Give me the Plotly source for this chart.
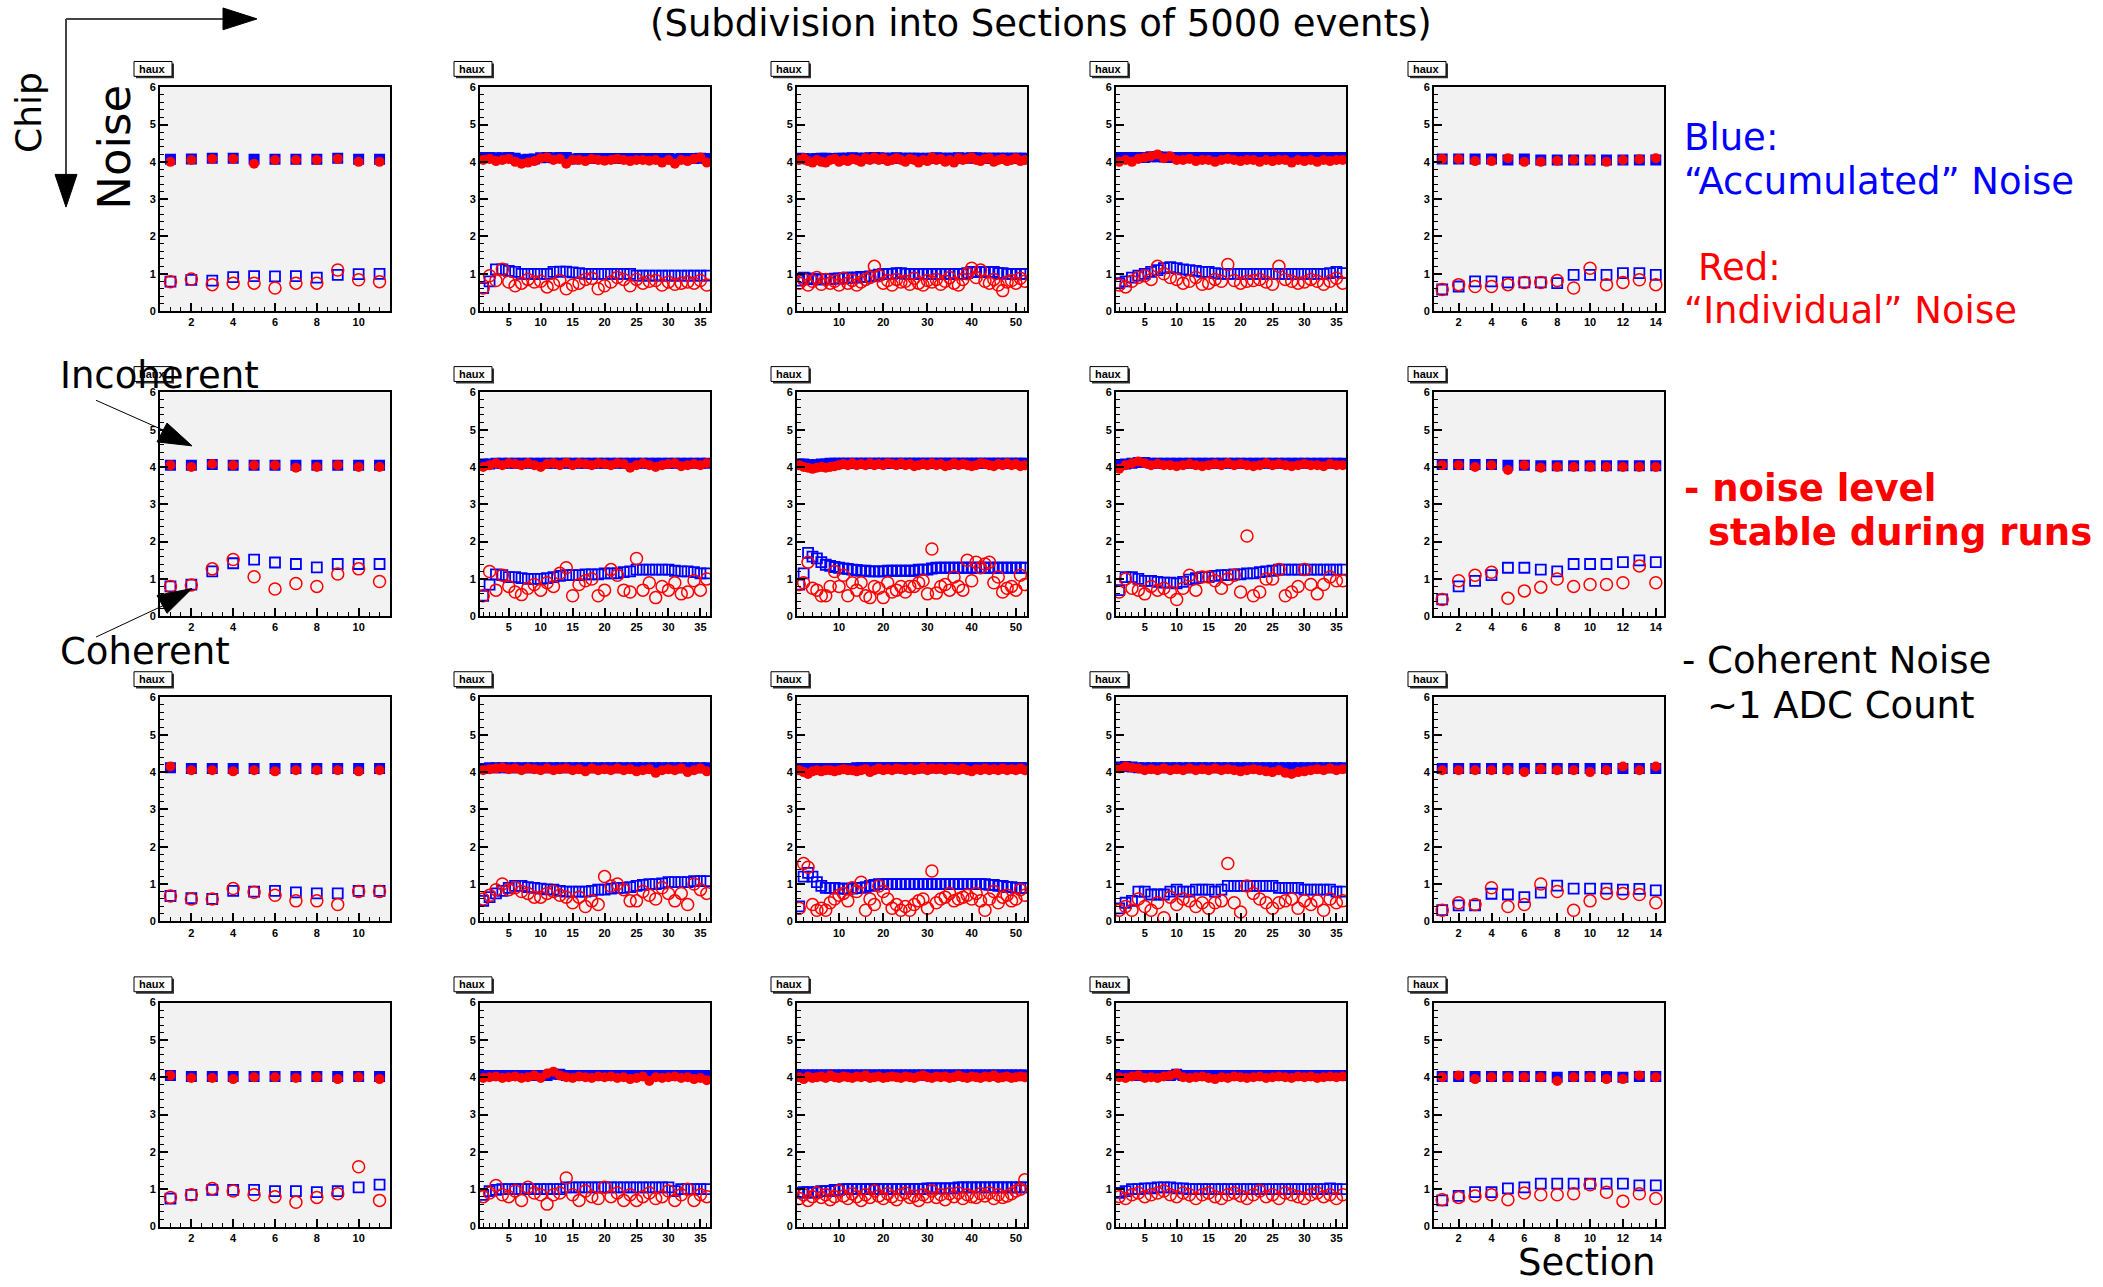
import plotly.graph_objects as go

W, H = 2103, 1287

# ---------------------------------------------------------------------------
# Noise per section (ADC counts).  Naming: r<row/chip>c<column/run>_<series>
#   bh = accumulated incoherent, rh = individual incoherent
#   bl = accumulated coherent,   rl = individual coherent
# ---------------------------------------------------------------------------
N_SECTIONS = [11, 36, 52, 36, 14]
X_MAJOR = [2, 5, 10, 5, 2]
X_MINOR = [0.5, 1, 2, 1, 0.5]

# ----- chip 1 -----
r1c1_bh = [4.07, 4.08, 4.1, 4.1, 4.07, 4.07, 4.07, 4.07, 4.1, 4.07, 4.07]
r1c1_rh = [4.0, 4.05, 4.08, 4.08, 3.95, 4.05, 4.05, 4.05, 4.08, 4.0, 4.0]
r1c1_bl = [0.79, 0.84, 0.82, 0.91, 0.94, 0.93, 0.94, 0.90, 0.97, 0.99, 1.0]
r1c1_rl = [0.79, 0.86, 0.71, 0.75, 0.75, 0.62, 0.75, 0.75, 1.1, 0.84, 0.79]

r1c2_bh = [4.12, 4.12, 4.11, 4.11, 4.12, 4.1, 4.06, 4.07, 4.08, 4.11,
           4.12, 4.11, 4.12, 4.12, 4.08, 4.09, 4.09, 4.09, 4.09, 4.09,
           4.09, 4.09, 4.09, 4.09, 4.09, 4.09, 4.09, 4.09, 4.09, 4.09,
           4.08, 4.09, 4.09, 4.09, 4.1, 4.09]
r1c2_rh = [4.05, 4.08, 4.02, 4.05, 4.08, 4.0, 3.95, 3.98, 4.02, 4.1,
           4.12, 4.05, 4.08, 3.95, 4.05, 4.05, 4.02, 4.08, 4.05, 4.03,
           4.05, 4.08, 4.05, 4.02, 4.05, 4.05, 4.03, 4.05, 3.98, 4.05,
           3.95, 4.05, 4.02, 4.08, 4.12, 3.98]
r1c2_bl = [0.62, 0.8, 1.12, 1.12, 1.08, 1.05, 1.0, 1.0, 1.0, 1.0,
           1.0, 1.05, 1.06, 1.06, 1.04, 1.02, 1.0, 1.0, 1.0, 1.0,
           1.0, 1.0, 1.0, 1.0, 0.95, 0.95, 0.95, 0.95, 0.95, 0.95,
           0.95, 0.95, 0.95, 0.95, 0.95, 0.95]
r1c2_rl = [0.62, 0.95, 0.82, 1.12, 0.78, 0.68, 0.75, 0.85, 0.78, 0.8,
           0.65, 0.72, 0.82, 0.6, 0.7, 0.75, 0.85, 0.88, 0.6, 0.68,
           0.78, 0.9, 0.85, 0.68, 0.85, 0.75, 0.8, 0.82, 0.7, 0.78,
           0.72, 0.75, 0.78, 0.75, 0.82, 0.7]

r1c3_bh = [4.1, 4.09, 4.08, 4.08, 4.09, 4.1, 4.1, 4.09, 4.09, 4.1,
           4.1, 4.1, 4.11, 4.1, 4.1, 4.1, 4.11, 4.12, 4.11, 4.1,
           4.1, 4.1, 4.11, 4.1, 4.1, 4.1, 4.1, 4.1, 4.09, 4.1,
           4.1, 4.11, 4.1, 4.1, 4.1, 4.1, 4.11, 4.1, 4.1, 4.11,
           4.11, 4.1, 4.1, 4.1, 4.1, 4.1, 4.1, 4.1, 4.1, 4.1,
           4.1, 4.1]
r1c3_rh = [4.05, 4.1, 4.02, 3.98, 4.05, 4.0, 3.98, 4.05, 4.08, 4.0,
           4.05, 4.02, 4.08, 4.05, 4.0, 4.1, 4.05, 4.12, 4.05, 4.1,
           4.02, 4.05, 4.1, 4.05, 4.0, 4.08, 4.05, 3.98, 4.05, 4.02,
           4.12, 4.05, 4.08, 4.0, 4.05, 3.98, 4.1, 4.05, 4.08, 4.12,
           4.05, 4.02, 4.08, 4.1, 4.0, 4.05, 4.08, 4.02, 4.05, 4.1,
           4.02, 4.05]
r1c3_bl = [0.82, 0.9, 0.88, 0.86, 0.85, 0.85, 0.86, 0.86, 0.87, 0.88,
           0.88, 0.9, 0.9, 0.9, 0.92, 0.92, 0.93, 0.95, 0.98, 1.0,
           1.0, 1.0, 1.02, 1.02, 1.0, 1.0, 1.0, 1.0, 1.0, 1.0,
           1.0, 1.0, 1.0, 1.0, 1.0, 1.0, 1.0, 1.0, 1.02, 1.05,
           1.05, 1.05, 1.05, 1.05, 1.05, 1.02, 1.02, 1.0, 1.0, 1.0,
           1.0, 1.0]
r1c3_rl = [0.75, 0.85, 0.7, 0.8, 0.9, 0.72, 0.85, 0.75, 0.8, 0.7,
           0.88, 0.75, 0.82, 0.7, 0.78, 0.85, 0.9, 1.2, 0.95, 0.75,
           0.82, 0.7, 0.85, 0.78, 0.8, 0.72, 0.88, 0.75, 0.7, 0.82,
           0.78, 0.85, 0.72, 0.8, 0.9, 0.75, 0.7, 0.85, 1.0, 1.15,
           0.9, 1.1, 0.8, 0.75, 0.85, 0.7, 0.55, 0.78, 0.82, 0.75,
           0.88, 0.8]

r1c4_bh = [4.12, 4.12, 4.12, 4.12, 4.12, 4.14, 4.14, 4.13, 4.12, 4.12,
           4.12, 4.12, 4.12, 4.12, 4.12, 4.12, 4.12, 4.12, 4.12, 4.12,
           4.12, 4.12, 4.12, 4.12, 4.12, 4.12, 4.12, 4.12, 4.12, 4.12,
           4.12, 4.12, 4.12, 4.12, 4.12, 4.12]
r1c4_rh = [4.0, 4.05, 4.0, 4.08, 4.12, 4.15, 4.2, 4.1, 4.15, 4.05,
           4.05, 4.08, 4.02, 4.05, 4.05, 4.0, 4.05, 4.08, 4.05, 4.02,
           4.05, 4.05, 4.0, 4.05, 4.02, 4.05, 4.05, 3.98, 4.05, 4.02,
           4.05, 4.0, 4.05, 4.02, 4.05, 4.05]
r1c4_bl = [0.75, 0.8, 0.9, 0.95, 1.0, 1.05, 1.1, 1.15, 1.18, 1.15,
           1.12, 1.1, 1.08, 1.05, 1.05, 1.02, 1.0, 1.0, 1.0, 1.0,
           1.0, 1.0, 1.0, 1.0, 1.0, 1.0, 1.0, 1.0, 1.0, 1.0,
           1.0, 1.0, 1.0, 1.02, 1.05, 1.02]
r1c4_rl = [0.7, 0.65, 0.8, 0.9, 0.95, 0.85, 1.2, 1.0, 0.9, 0.85,
           0.75, 0.8, 0.9, 0.72, 0.75, 0.85, 0.8, 1.25, 0.82, 0.75,
           0.8, 0.82, 0.85, 0.78, 0.72, 1.2, 0.85, 0.8, 0.75, 0.78,
           0.85, 0.8, 0.72, 0.8, 0.88, 0.75]

r1c5_bh = [4.08, 4.08, 4.08, 4.08, 4.05, 4.08, 4.05, 4.05, 4.05, 4.05,
           4.05, 4.05, 4.05, 4.05]
r1c5_rh = [4.08, 4.08, 4.02, 4.02, 4.1, 4.0, 4.0, 4.03, 4.05, 4.05,
           4.0, 4.05, 4.07, 4.1]
r1c5_bl = [0.58, 0.66, 0.8, 0.8, 0.77, 0.77, 0.77, 0.75, 0.97, 0.97,
           0.97, 1.02, 1.02, 0.97]
r1c5_rl = [0.58, 0.71, 0.66, 0.66, 0.71, 0.77, 0.77, 0.82, 0.62, 1.15,
           0.71, 0.77, 0.84, 0.71]

# ----- chip 2 -----
r2c1_bh = [4.05, 4.05, 4.07, 4.05, 4.05, 4.05, 4.05, 4.05, 4.05, 4.05, 4.05]
r2c1_rh = [4.05, 4.0, 4.08, 4.05, 4.05, 4.05, 3.98, 4.0, 4.05, 4.0, 4.0]
r2c1_bl = [0.8, 0.85, 1.2, 1.42, 1.52, 1.44, 1.4, 1.31, 1.4, 1.4, 1.4]
r2c1_rl = [0.8, 0.84, 1.27, 1.52, 1.06, 0.73, 0.88, 0.8, 1.13, 1.27, 0.93]

r2c2_bh = [4.08, 4.08, 4.1, 4.1, 4.1, 4.1, 4.1, 4.1, 4.1, 4.1,
           4.1, 4.1, 4.1, 4.1, 4.1, 4.1, 4.1, 4.1, 4.1, 4.1,
           4.1, 4.1, 4.1, 4.1, 4.1, 4.1, 4.1, 4.1, 4.1, 4.1,
           4.1, 4.1, 4.1, 4.1, 4.1, 4.1]
r2c2_rh = [4.0, 4.05, 4.1, 4.05, 4.1, 4.08, 4.05, 4.1, 4.05, 4.0,
           4.08, 4.1, 4.05, 4.12, 4.05, 4.1, 4.08, 4.05, 4.1, 4.08,
           4.05, 4.1, 4.08, 3.98, 4.05, 4.1, 4.05, 4.0, 4.05, 4.08,
           4.1, 4.02, 4.05, 4.08, 4.05, 4.1]
r2c2_bl = [0.55, 0.85, 1.12, 1.1, 1.05, 1.05, 1.02, 1.0, 1.0, 1.0,
           1.02, 1.05, 1.08, 1.1, 1.1, 1.1, 1.12, 1.12, 1.12, 1.15,
           1.15, 1.15, 1.18, 1.2, 1.25, 1.25, 1.25, 1.25, 1.25, 1.25,
           1.22, 1.2, 1.2, 1.18, 1.15, 1.15]
r2c2_rl = [0.55, 1.2, 0.7, 1.1, 0.8, 0.65, 0.58, 0.75, 0.85, 0.7,
           0.9, 0.8, 1.15, 1.3, 0.55, 0.85, 0.95, 1.0, 0.55, 0.7,
           1.25, 1.1, 0.7, 0.65, 1.55, 0.7, 0.9, 0.5, 0.8, 0.7,
           0.9, 0.6, 0.65, 0.95, 0.7, 1.0]

r2c3_bh = [4.08, 4.08, 4.06, 4.06, 4.06, 4.08, 4.08, 4.1, 4.1, 4.1,
           4.1, 4.1, 4.1, 4.1, 4.1, 4.1, 4.1, 4.1, 4.1, 4.1,
           4.1, 4.1, 4.1, 4.1, 4.1, 4.1, 4.1, 4.1, 4.1, 4.1,
           4.1, 4.1, 4.1, 4.1, 4.1, 4.1, 4.1, 4.1, 4.1, 4.1,
           4.1, 4.1, 4.1, 4.1, 4.1, 4.1, 4.1, 4.1, 4.1, 4.1,
           4.1, 4.1]
r2c3_rh = [4.05, 4.0, 3.98, 3.95, 3.98, 4.0, 3.98, 4.0, 4.02, 4.05,
           4.08, 4.05, 4.1, 4.05, 4.08, 4.05, 4.1, 4.05, 4.08, 4.05,
           4.1, 4.08, 4.05, 4.1, 4.05, 4.08, 4.02, 4.05, 4.08, 4.05,
           4.1, 4.05, 4.08, 4.02, 4.05, 4.1, 4.05, 4.08, 4.05, 4.02,
           4.05, 4.1, 4.08, 4.05, 4.02, 4.08, 4.05, 4.1, 4.05, 4.08,
           4.02, 4.05]
r2c3_bl = [0.85, 1.15, 1.7, 1.6, 1.55, 1.45, 1.38, 1.35, 1.32, 1.3,
           1.28, 1.27, 1.25, 1.24, 1.22, 1.22, 1.2, 1.2, 1.2, 1.2,
           1.22, 1.22, 1.22, 1.22, 1.22, 1.22, 1.22, 1.25, 1.25, 1.25,
           1.28, 1.3, 1.3, 1.3, 1.3, 1.3, 1.3, 1.3, 1.3, 1.3,
           1.3, 1.3, 1.3, 1.3, 1.3, 1.3, 1.3, 1.3, 1.3, 1.3,
           1.3, 1.3]
r2c3_rl = [0.85, 0.9, 1.45, 0.75, 0.7, 0.55, 0.55, 0.8, 1.2, 0.8,
           1.1, 0.55, 0.9, 0.7, 0.9, 0.55, 0.5, 0.8, 0.75, 0.5,
           0.9, 0.65, 0.7, 0.8, 0.65, 0.8, 0.8, 0.9, 0.95, 0.6,
           1.8, 0.62, 0.8, 0.85, 0.7, 1.05, 0.8, 0.7, 1.5, 0.95,
           1.45, 1.3, 1.4, 1.45, 0.9, 1.05, 0.65, 0.75, 0.8, 0.7,
           1.1, 0.85]

r2c4_bh = [4.06, 4.08, 4.1, 4.12, 4.12, 4.1, 4.1, 4.1, 4.1, 4.1,
           4.1, 4.1, 4.1, 4.1, 4.1, 4.1, 4.1, 4.1, 4.1, 4.1,
           4.1, 4.1, 4.1, 4.1, 4.1, 4.1, 4.1, 4.1, 4.1, 4.1,
           4.1, 4.1, 4.1, 4.1, 4.1, 4.1]
r2c4_rh = [3.95, 4.05, 4.1, 4.15, 4.1, 4.05, 4.08, 4.05, 4.05, 4.02,
           4.05, 4.08, 4.05, 4.02, 4.05, 4.08, 4.05, 4.1, 4.05, 4.08,
           4.05, 4.02, 4.05, 4.1, 4.05, 4.08, 4.05, 4.02, 4.05, 4.08,
           4.05, 4.05, 4.02, 4.08, 4.05, 4.05]
r2c4_bl = [0.7, 1.05, 1.05, 1.0, 0.95, 0.95, 0.92, 0.9, 0.9, 0.88,
           0.92, 0.98, 1.02, 1.05, 1.05, 1.08, 1.1, 1.1, 1.12, 1.12,
           1.15, 1.15, 1.18, 1.2, 1.22, 1.25, 1.25, 1.25, 1.25, 1.25,
           1.25, 1.25, 1.25, 1.25, 1.25, 1.25]
r2c4_rl = [0.65, 1.0, 0.75, 0.7, 0.6, 0.8, 0.7, 0.75, 0.65, 0.45,
           0.75, 1.1, 0.7, 1.05, 1.05, 0.95, 0.75, 1.0, 1.1, 0.65,
           2.15, 0.55, 0.65, 1.0, 1.0, 1.25, 0.55, 0.65, 0.8, 1.25,
           0.85, 0.6, 0.85, 1.05, 0.95, 0.95]

r2c5_bh = [4.07, 4.07, 4.07, 4.07, 4.05, 4.05, 4.03, 4.03, 4.03, 4.03,
           4.03, 4.03, 4.03, 4.03]
r2c5_rh = [4.05, 4.05, 4.0, 4.05, 3.92, 4.05, 3.98, 4.0, 4.0, 4.0,
           4.0, 4.0, 4.0, 4.0]
r2c5_bl = [0.45, 0.8, 0.95, 1.1, 1.3, 1.3, 1.25, 1.2, 1.4, 1.4,
           1.4, 1.45, 1.5, 1.45]
r2c5_rl = [0.45, 0.95, 1.1, 1.18, 0.48, 0.68, 0.78, 1.0, 0.8, 0.85,
           0.85, 0.9, 1.35, 0.9]

# ----- chip 3 -----
r3c1_bh = [4.12, 4.1, 4.1, 4.1, 4.1, 4.1, 4.1, 4.1, 4.1, 4.1, 4.1]
r3c1_rh = [4.15, 4.05, 4.05, 4.02, 4.05, 4.02, 4.05, 4.05, 4.05, 4.02, 4.05]
r3c1_bl = [0.68, 0.62, 0.6, 0.82, 0.8, 0.82, 0.78, 0.75, 0.75, 0.82, 0.82]
r3c1_rl = [0.68, 0.6, 0.6, 0.88, 0.78, 0.7, 0.55, 0.55, 0.45, 0.8, 0.8]

r3c2_bh = [4.1, 4.12, 4.12, 4.12, 4.12, 4.12, 4.12, 4.12, 4.12, 4.12,
           4.12, 4.12, 4.12, 4.12, 4.12, 4.12, 4.12, 4.12, 4.12, 4.12,
           4.12, 4.12, 4.12, 4.12, 4.12, 4.12, 4.12, 4.12, 4.12, 4.12,
           4.12, 4.12, 4.12, 4.12, 4.12, 4.12]
r3c2_rh = [4.05, 4.08, 4.1, 4.12, 4.08, 4.1, 4.05, 4.1, 4.08, 4.05,
           4.1, 4.05, 4.08, 4.1, 4.05, 4.08, 4.02, 4.1, 4.05, 4.08,
           4.05, 4.1, 4.05, 4.08, 4.02, 4.05, 4.08, 3.98, 4.05, 4.08,
           4.05, 4.1, 4.0, 4.05, 4.1, 4.02]
r3c2_bl = [0.55, 0.65, 0.75, 0.82, 0.9, 0.95, 0.95, 0.92, 0.9, 0.88,
           0.86, 0.85, 0.82, 0.8, 0.8, 0.8, 0.8, 0.82, 0.85, 0.85,
           0.88, 0.9, 0.9, 0.92, 0.95, 0.98, 1.0, 1.0, 1.02, 1.05,
           1.05, 1.05, 1.05, 1.08, 1.08, 1.08]
r3c2_rl = [0.6, 0.7, 0.85, 1.0, 0.85, 0.9, 0.8, 0.75, 0.65, 0.65,
           0.75, 0.8, 0.7, 0.65, 0.5, 0.65, 0.4, 0.55, 0.45, 1.2,
           0.95, 1.0, 0.85, 0.55, 0.55, 0.8, 0.7, 0.6, 0.9, 0.75,
           0.55, 0.75, 0.45, 1.0, 0.85, 0.75]

r3c3_bh = [4.1, 4.1, 4.08, 4.1, 4.1, 4.1, 4.1, 4.1, 4.1, 4.1,
           4.1, 4.1, 4.1, 4.12, 4.12, 4.12, 4.12, 4.12, 4.12, 4.12,
           4.12, 4.12, 4.12, 4.12, 4.12, 4.12, 4.12, 4.12, 4.12, 4.12,
           4.12, 4.12, 4.12, 4.12, 4.12, 4.12, 4.12, 4.12, 4.12, 4.12,
           4.12, 4.12, 4.12, 4.12, 4.12, 4.12, 4.12, 4.12, 4.12, 4.12,
           4.12, 4.12]
r3c3_rh = [4.05, 4.0, 3.95, 4.02, 4.05, 4.02, 4.05, 4.05, 4.02, 4.05,
           4.08, 4.05, 4.05, 4.02, 4.05, 4.08, 4.0, 4.05, 4.1, 4.05,
           4.08, 4.05, 4.1, 4.08, 4.05, 4.1, 4.05, 4.08, 4.12, 4.05,
           4.1, 4.08, 4.1, 4.05, 4.1, 4.08, 4.05, 4.1, 4.05, 4.02,
           4.08, 4.05, 4.1, 4.05, 4.08, 4.05, 4.1, 4.05, 4.08, 4.05,
           4.1, 4.05]
r3c3_bl = [0.4, 1.2, 1.3, 1.2, 1.05, 0.95, 0.9, 0.9, 0.9, 0.88,
           0.88, 0.88, 0.88, 0.9, 0.9, 0.92, 0.95, 0.98, 1.0, 1.0,
           1.0, 1.0, 1.0, 1.0, 1.0, 1.0, 1.0, 1.0, 1.0, 1.0,
           1.0, 1.0, 1.0, 1.0, 1.0, 1.0, 1.0, 1.0, 1.0, 1.0,
           1.0, 1.0, 1.0, 0.98, 0.98, 0.95, 0.95, 0.92, 0.92, 0.9,
           0.9, 0.9]
r3c3_rl = [0.35, 1.55, 1.45, 0.45, 0.3, 0.35, 0.3, 0.5, 0.6, 0.7,
           0.75, 0.55, 0.9, 0.8, 1.05, 0.3, 0.6, 0.45, 0.95, 0.8,
           0.6, 0.35, 0.45, 0.3, 0.4, 0.3, 0.45, 0.55, 0.6, 0.35,
           1.35, 0.5, 0.6, 0.65, 0.75, 0.55, 0.6, 0.65, 0.7, 0.6,
           0.75, 0.55, 0.3, 0.6, 0.8, 0.5, 0.65, 0.7, 0.55, 0.6,
           0.85, 0.7]

r3c4_bh = [4.14, 4.15, 4.14, 4.12, 4.12, 4.12, 4.12, 4.12, 4.12, 4.12,
           4.12, 4.12, 4.12, 4.12, 4.12, 4.12, 4.12, 4.12, 4.12, 4.12,
           4.12, 4.12, 4.12, 4.12, 4.12, 4.12, 4.12, 4.12, 4.12, 4.12,
           4.12, 4.12, 4.12, 4.12, 4.12, 4.12]
r3c4_rh = [4.1, 4.15, 4.12, 4.1, 4.05, 4.08, 4.05, 4.1, 4.05, 4.08,
           4.05, 4.1, 4.05, 4.08, 4.05, 4.1, 4.05, 4.08, 4.05, 4.02,
           4.05, 4.08, 4.05, 4.02, 4.0, 4.05, 3.98, 3.95, 4.0, 4.02,
           4.05, 4.08, 4.05, 4.1, 4.05, 4.08]
r3c4_bl = [0.35, 0.5, 0.55, 0.8, 0.8, 0.72, 0.72, 0.72, 0.8, 0.85,
           0.8, 0.8, 0.85, 0.85, 0.85, 0.8, 0.85, 0.95, 0.95, 0.95,
           0.95, 0.95, 0.95, 0.95, 0.95, 0.9, 0.9, 0.9, 0.9, 0.85,
           0.85, 0.85, 0.85, 0.85, 0.8, 0.8]
r3c4_rl = [0.3, 0.4, 0.3, 0.6, 0.4, 0.3, 0.5, 0.1, 0.65, 0.45,
           0.6, 0.55, 0.4, 0.5, 0.35, 0.5, 0.55, 1.55, 0.5, 0.25,
           0.95, 0.75, 0.6, 0.5, 0.35, 0.5, 0.55, 0.6, 0.35, 0.55,
           0.45, 0.55, 0.3, 0.6, 0.5, 0.55]

r3c5_bh = [4.1, 4.1, 4.1, 4.1, 4.1, 4.1, 4.1, 4.1, 4.1, 4.1,
           4.1, 4.1, 4.1, 4.1]
r3c5_rh = [4.05, 4.05, 4.05, 4.05, 4.05, 4.0, 4.08, 4.05, 4.05, 4.0,
           4.05, 4.15, 4.05, 4.15]
r3c5_bl = [0.3, 0.43, 0.43, 0.74, 0.72, 0.65, 0.77, 0.96, 0.88, 0.88,
           0.88, 0.85, 0.87, 0.83]
r3c5_rl = [0.3, 0.5, 0.45, 0.9, 0.4, 0.45, 1.0, 0.8, 0.3, 0.55,
           0.75, 0.75, 0.72, 0.5]

# ----- chip 4 -----
r4c1_bh = [4.05, 4.02, 4.02, 4.02, 4.02, 4.02, 4.02, 4.02, 4.02, 4.02, 4.02]
r4c1_rh = [4.05, 3.98, 3.98, 3.95, 4.0, 4.0, 3.98, 4.0, 3.95, 4.0, 3.95]
r4c1_bl = [0.75, 0.85, 0.98, 0.98, 0.98, 0.95, 0.95, 0.92, 0.95, 1.05, 1.12]
r4c1_rl = [0.78, 0.85, 1.02, 0.95, 0.85, 0.8, 0.65, 0.78, 0.88, 1.6, 0.7]

r4c2_bh = [4.05, 4.05, 4.05, 4.05, 4.05, 4.05, 4.05, 4.05, 4.05, 4.05,
           4.05, 4.08, 4.08, 4.05, 4.05, 4.05, 4.05, 4.05, 4.05, 4.05,
           4.05, 4.05, 4.05, 4.05, 4.05, 4.05, 4.05, 4.05, 4.05, 4.05,
           4.05, 4.05, 4.05, 4.05, 4.05, 4.05]
r4c2_rh = [3.98, 4.0, 4.02, 3.98, 4.0, 4.02, 3.98, 4.0, 4.05, 3.98,
           4.1, 4.15, 4.05, 4.0, 3.98, 4.02, 4.0, 3.98, 4.02, 4.0,
           4.02, 3.98, 4.0, 3.95, 3.98, 4.02, 3.9, 4.0, 3.98, 4.0,
           4.02, 3.98, 4.0, 3.95, 3.98, 3.92]
r4c2_bl = [0.85, 0.95, 0.98, 1.0, 1.0, 1.0, 1.0, 1.0, 1.0, 1.0,
           1.0, 1.0, 1.0, 1.05, 1.05, 1.05, 1.05, 1.05, 1.05, 1.05,
           1.05, 1.05, 1.05, 1.05, 1.05, 1.05, 1.05, 1.05, 1.05, 1.05,
           0.95, 1.0, 1.0, 1.0, 1.0, 1.0]
r4c2_rl = [0.8, 0.9, 1.1, 0.85, 0.8, 0.95, 0.7, 1.05, 0.9, 0.85,
           0.6, 0.85, 0.9, 1.3, 0.85, 0.7, 0.95, 0.8, 0.75, 1.05,
           0.8, 0.9, 0.7, 0.85, 0.7, 0.8, 0.9, 0.75, 0.8, 0.95,
           0.7, 0.85, 1.0, 0.7, 0.85, 0.8]

r4c3_bh = [4.06, 4.06, 4.06, 4.06, 4.06, 4.06, 4.06, 4.06, 4.06, 4.06,
           4.06, 4.06, 4.06, 4.06, 4.06, 4.06, 4.06, 4.06, 4.06, 4.06,
           4.06, 4.06, 4.06, 4.06, 4.06, 4.06, 4.06, 4.06, 4.06, 4.06,
           4.06, 4.06, 4.06, 4.06, 4.06, 4.06, 4.06, 4.06, 4.06, 4.06,
           4.06, 4.06, 4.06, 4.06, 4.06, 4.06, 4.06, 4.06, 4.06, 4.06,
           4.06, 4.06]
r4c3_rh = [4.0, 3.95, 4.02, 3.98, 4.0, 4.02, 3.98, 4.05, 4.0, 3.98,
           4.02, 4.0, 3.98, 4.02, 4.0, 4.05, 3.98, 4.0, 4.02, 3.98,
           4.0, 4.02, 4.0, 3.98, 4.02, 4.0, 3.98, 4.02, 4.05, 4.0,
           3.98, 4.02, 4.0, 4.02, 3.98, 4.0, 4.05, 4.0, 3.98, 4.02,
           4.0, 3.98, 4.02, 4.0, 4.05, 3.98, 4.0, 4.02, 3.98, 4.0,
           4.02, 4.0]
r4c3_bl = [0.9, 0.92, 0.92, 0.9, 0.92, 0.95, 0.95, 0.95, 0.98, 0.98,
           1.0, 1.0, 1.0, 1.0, 1.0, 1.0, 1.0, 1.0, 1.0, 1.0,
           1.0, 1.0, 1.0, 1.0, 1.0, 1.0, 1.0, 1.0, 1.0, 1.02,
           1.02, 1.02, 1.02, 1.02, 1.02, 1.02, 1.05, 1.05, 1.05, 1.05,
           1.05, 1.05, 1.05, 1.05, 1.05, 1.05, 1.05, 1.05, 1.05, 1.05,
           1.05, 1.05]
r4c3_rl = [0.75, 0.85, 0.7, 0.8, 0.9, 0.78, 0.85, 0.72, 0.8, 0.95,
           0.82, 0.75, 0.88, 0.8, 0.7, 0.85, 0.78, 0.95, 0.82, 0.75,
           0.88, 0.8, 0.72, 0.85, 0.9, 0.78, 0.82, 0.7, 0.85, 0.8,
           0.95, 0.78, 0.85, 0.72, 0.88, 0.8, 0.9, 0.75, 0.85, 0.8,
           0.78, 0.88, 0.82, 0.9, 0.75, 0.85, 0.78, 0.82, 0.88, 0.95,
           1.0, 1.25]

r4c4_bh = [4.05, 4.05, 4.05, 4.05, 4.05, 4.05, 4.05, 4.05, 4.05, 4.08,
           4.05, 4.05, 4.05, 4.05, 4.05, 4.05, 4.05, 4.05, 4.05, 4.05,
           4.05, 4.05, 4.05, 4.05, 4.05, 4.05, 4.05, 4.05, 4.05, 4.05,
           4.05, 4.05, 4.05, 4.05, 4.05, 4.05]
r4c4_rh = [4.0, 3.98, 4.02, 4.05, 3.98, 4.0, 3.98, 4.02, 4.05, 4.1,
           4.0, 3.98, 4.0, 4.02, 3.98, 3.95, 4.0, 3.98, 4.02, 4.0,
           3.98, 4.0, 4.02, 3.98, 4.0, 4.02, 4.0, 3.98, 4.02, 4.0,
           4.02, 3.98, 4.0, 4.02, 4.0, 4.02]
r4c4_bl = [0.9, 0.95, 1.0, 1.0, 1.02, 1.02, 1.05, 1.05, 1.05, 1.02,
           1.02, 1.0, 1.0, 1.0, 1.0, 1.0, 1.0, 1.0, 1.0, 1.0,
           1.0, 1.0, 1.0, 1.0, 1.0, 1.0, 1.0, 1.0, 1.0, 1.0,
           1.0, 1.0, 1.0, 1.02, 1.0, 1.0]
r4c4_rl = [0.8, 0.75, 0.85, 0.9, 0.8, 0.85, 0.9, 0.95, 0.85, 0.8,
           0.9, 0.85, 0.75, 0.85, 0.9, 0.8, 0.75, 0.85, 0.9, 0.82,
           0.75, 0.85, 0.95, 0.8, 0.85, 0.75, 0.9, 0.85, 0.8, 0.75,
           0.85, 0.9, 0.8, 0.85, 0.75, 0.85]

r4c5_bh = [4.02, 4.02, 4.02, 4.02, 4.02, 4.02, 4.02, 4.0, 4.02, 4.02,
           4.02, 4.0, 4.02, 4.02]
r4c5_rh = [4.0, 4.05, 3.95, 4.0, 4.0, 4.0, 4.0, 3.9, 4.0, 4.0,
           3.95, 3.95, 4.05, 4.0]
r4c5_bl = [0.7, 0.82, 0.92, 0.92, 1.02, 1.05, 1.15, 1.15, 1.15, 1.15,
           1.15, 1.15, 1.1, 1.1]
r4c5_rl = [0.72, 0.78, 0.82, 0.85, 0.72, 0.9, 0.85, 0.85, 0.88, 1.12,
           0.92, 0.68, 0.88, 0.75]

PANELS = [
    [(r1c1_bh, r1c1_rh, r1c1_bl, r1c1_rl), (r1c2_bh, r1c2_rh, r1c2_bl, r1c2_rl),
     (r1c3_bh, r1c3_rh, r1c3_bl, r1c3_rl), (r1c4_bh, r1c4_rh, r1c4_bl, r1c4_rl),
     (r1c5_bh, r1c5_rh, r1c5_bl, r1c5_rl)],
    [(r2c1_bh, r2c1_rh, r2c1_bl, r2c1_rl), (r2c2_bh, r2c2_rh, r2c2_bl, r2c2_rl),
     (r2c3_bh, r2c3_rh, r2c3_bl, r2c3_rl), (r2c4_bh, r2c4_rh, r2c4_bl, r2c4_rl),
     (r2c5_bh, r2c5_rh, r2c5_bl, r2c5_rl)],
    [(r3c1_bh, r3c1_rh, r3c1_bl, r3c1_rl), (r3c2_bh, r3c2_rh, r3c2_bl, r3c2_rl),
     (r3c3_bh, r3c3_rh, r3c3_bl, r3c3_rl), (r3c4_bh, r3c4_rh, r3c4_bl, r3c4_rl),
     (r3c5_bh, r3c5_rh, r3c5_bl, r3c5_rl)],
    [(r4c1_bh, r4c1_rh, r4c1_bl, r4c1_rl), (r4c2_bh, r4c2_rh, r4c2_bl, r4c2_rl),
     (r4c3_bh, r4c3_rh, r4c3_bl, r4c3_rl), (r4c4_bh, r4c4_rh, r4c4_bl, r4c4_rl),
     (r4c5_bh, r4c5_rh, r4c5_bl, r4c5_rl)],
]

# ---------------------------------------------------------------------------
# Page geometry (pixels)
# ---------------------------------------------------------------------------
COL_LEFT = [160, 480, 797, 1116, 1434]
ROW_TOP = [82, 390, 698, 1006]
PW, PH = 230, 226

BLUE = "#0000ff"
RED = "#ff0000"
TEXT_FONT = "DejaVu Sans"
AXIS_FONT = dict(family="Liberation Sans", size=11, color="black", weight="bold")


def px(x):
    return x / W


def py(y):
    return 1 - y / H


fig = go.Figure()
layout = {}
shapes = []
annotations = []

for r in range(4):
    for c in range(5):
        k = r * 5 + c + 1
        sfx = "" if k == 1 else str(k)
        xa, ya = "x" + sfx, "y" + sfx
        bh, rh, bl, rl = PANELS[r][c]
        n = N_SECTIONS[c]

        def xs(vals):
            return list(range(1, len(vals) + 1))

        common = dict(xaxis=xa, yaxis=ya, mode="markers", showlegend=False,
                      hoverinfo="skip")
        fig.add_trace(go.Scatter(x=xs(bh), y=bh, marker=dict(
            symbol="square", size=11, color=BLUE, line=dict(width=0)), **common))
        fig.add_trace(go.Scatter(x=xs(bl), y=bl, marker=dict(
            symbol="square-open", size=10, color=BLUE, line=dict(width=1.8)), **common))
        fig.add_trace(go.Scatter(x=xs(rh), y=rh, marker=dict(
            symbol="circle", size=10, color=RED, line=dict(width=0)), **common))
        fig.add_trace(go.Scatter(x=xs(rl), y=rl, marker=dict(
            symbol="circle-open", size=12, color=RED, line=dict(width=1.5)), **common))

        L, T = COL_LEFT[c], ROW_TOP[r]
        layout["xaxis" + sfx] = dict(
            domain=[px(L), px(L + PW)], anchor=ya, range=[0.5, n + 0.5],
            tick0=0, dtick=X_MAJOR[c], ticks="inside", ticklen=8, tickwidth=1.5,
            tickcolor="black", showline=True, linewidth=2, linecolor="black",
            mirror=True, showgrid=False, zeroline=False, tickfont=AXIS_FONT,
            minor=dict(dtick=X_MINOR[c], ticks="inside", ticklen=4, tickwidth=1,
                       tickcolor="black", showgrid=False),
        )
        layout["yaxis" + sfx] = dict(
            domain=[py(T + PH), py(T)], anchor=xa, range=[0, 6],
            tick0=0, dtick=1, ticks="inside", ticklen=8, tickwidth=1.5,
            tickcolor="black", showline=True, linewidth=2, linecolor="black",
            mirror=True, showgrid=False, zeroline=False, tickfont=AXIS_FONT,
            minor=dict(dtick=0.2, ticks="inside", ticklen=4, tickwidth=1,
                       tickcolor="black", showgrid=False),
        )

        # histogram name box with drop shadow
        bx0, bx1, by0, by1 = L - 26, L + 12, T - 26, T - 11
        shapes.append(dict(type="rect", xref="paper", yref="paper",
                           x0=px(bx0 + 2), x1=px(bx1 + 2), y0=py(by1 + 2), y1=py(by0 + 2),
                           fillcolor="#333333", line=dict(width=0), layer="above"))
        shapes.append(dict(type="rect", xref="paper", yref="paper",
                           x0=px(bx0), x1=px(bx1), y0=py(by1), y1=py(by0),
                           fillcolor="white", line=dict(color="black", width=1),
                           layer="above"))
        annotations.append(dict(text="haux", xref="paper", yref="paper",
                                x=px(bx0 + 3), y=py((by0 + by1) / 2),
                                xanchor="left", yanchor="middle", showarrow=False,
                                font=dict(family="Liberation Sans", size=11,
                                          color="black", weight="bold")))


def tri(pts, color="black"):
    d = "M " + " L ".join(f"{px(a)},{py(b)}" for a, b in pts) + " Z"
    return dict(type="path", xref="paper", yref="paper", path=d,
                fillcolor=color, line=dict(color=color, width=1), layer="above")


def seg(x0, y0, x1, y1, color="black", width=1):
    return dict(type="line", xref="paper", yref="paper", x0=px(x0), y0=py(y0),
                x1=px(x1), y1=py(y1), line=dict(color=color, width=width),
                layer="above")


# page orientation arrows (sections to the right, chips downward)
shapes.append(seg(66, 13, 226, 13, color="#444444", width=2))
shapes.append(tri([(223, 2), (257, 13), (223, 24)]))
shapes.append(seg(66, 13, 66, 172, color="#444444", width=2))
shapes.append(tri([(55, 170), (77, 170), (66, 203)]))

# incoherent / coherent pointers
shapes.append(seg(96, 398, 172, 432))
shapes.append(tri([(157, 440), (167, 421), (192, 444)]))
shapes.append(seg(96, 637, 170, 602))
shapes.append(tri([(157, 595), (167, 613), (192, 588)]))


def label(text, x, y, size=37, color="black", anchor="left", bold=False, angle=0):
    annotations.append(dict(
        text=text, xref="paper", yref="paper", x=px(x), y=py(y),
        xanchor=anchor, yanchor="middle", showarrow=False, textangle=angle,
        font=dict(family=TEXT_FONT, size=size, color=color,
                  weight="bold" if bold else "normal")))


label("(Subdivision into Sections of 5000 events)", 1041, 18, anchor="center")
label("Chip", 29, 108, size=36, anchor="center", angle=-90)
label("Noise", 115, 143, size=45, anchor="center", angle=-90)
label("Incoherent", 58, 373)
label("Coherent", 58, 652)
label("Blue:", 1682, 133, color=BLUE)
label("\u201cAccumulated\u201d Noise", 1682, 177, color=BLUE)
label("Red:", 1696, 264, color=RED)
label("\u201cIndividual\u201d Noise", 1682, 307, color=RED)
label("- noise level", 1682, 487, color=RED, bold=True)
label("stable during runs", 1706, 531, color=RED, bold=True)
label("- Coherent Noise", 1680, 661)
label("~1 ADC Count", 1705, 706)
label("Section", 1516, 1268)

layout.update(
    width=W, height=H, autosize=False,
    margin=dict(l=0, r=0, t=0, b=0, pad=0),
    paper_bgcolor="white", plot_bgcolor="#f2f2f2",
    shapes=shapes, annotations=annotations, showlegend=False,
)
fig.update_layout(**layout)
fig.write_html("out.html")
